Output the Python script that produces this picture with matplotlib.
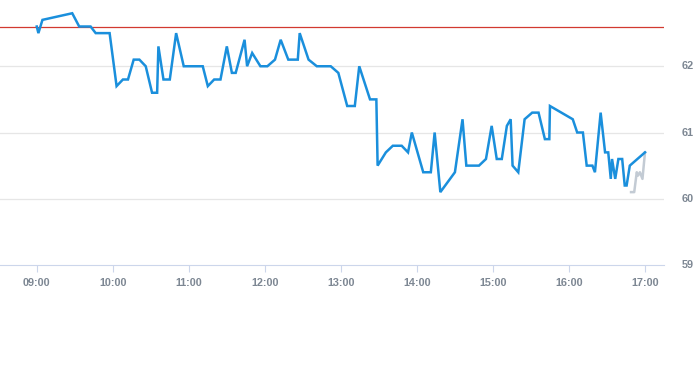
import matplotlib
matplotlib.use("Agg")
import matplotlib.pyplot as plt

# intraday price, minutes after 09:00
minutes = [0, 1.3, 4.5, 28, 33.5, 42.5, 46.5, 57.5, 63, 68, 72, 76.5, 81, 86, 91, 95,
           96, 100, 105, 110, 116, 131, 135, 140, 145, 150, 154, 157, 164, 166, 170,
           176.5, 182, 188, 192.5, 198.5, 206, 207.5, 214.5, 221, 232, 238, 245, 251,
           254.5, 263, 268, 269, 275.5, 281, 288, 293, 296, 305, 311, 314, 318.5, 330,
           336, 339, 349, 354.5, 359, 363, 367, 371, 374, 375.5, 380, 385, 391, 396,
           401, 404.5, 405, 423, 426.5, 431, 434, 438.5, 440.5, 445, 448.5, 451, 453,
           454, 456.5, 459, 462, 464, 465.5, 468, 480]
price = [62.6, 62.5, 62.7, 62.8, 62.6, 62.6, 62.5, 62.5, 61.7, 61.8, 61.8, 62.1, 62.1,
         62.0, 61.6, 61.6, 62.3, 61.8, 61.8, 62.5, 62.0, 62.0, 61.7, 61.8, 61.8, 62.3,
         61.9, 61.9, 62.4, 62.0, 62.2, 62.0, 62.0, 62.1, 62.4, 62.1, 62.1, 62.5, 62.1,
         62.0, 62.0, 61.9, 61.4, 61.4, 62.0, 61.5, 61.5, 60.5, 60.7, 60.8, 60.8, 60.7,
         61.0, 60.4, 60.4, 61.0, 60.1, 60.4, 61.2, 60.5, 60.5, 60.6, 61.1, 60.6, 60.6,
         61.1, 61.2, 60.5, 60.4, 61.2, 61.3, 61.3, 60.9, 60.9, 61.4, 61.2, 61.0, 61.0,
         60.5, 60.5, 60.4, 61.3, 60.7, 60.7, 60.3, 60.6, 60.3, 60.6, 60.6, 60.2, 60.2,
         60.5, 60.7]

# second (grey) series at the end of the session
grey_minutes = [469, 471.5, 473.5, 474.5, 476, 478, 480]
grey_price = [60.1, 60.1, 60.4, 60.35, 60.4, 60.3, 60.7]

ref_level = 62.6
tick_labels = ["09:00", "10:00", "11:00", "12:00", "13:00", "14:00", "15:00", "16:00", "17:00"]
y_ticks = [59, 60, 61, 62]

text_col = "#7d8793"
plt.rcParams["font.family"] = ["Liberation Sans", "DejaVu Sans"]

fig = plt.figure(figsize=(6.93, 3.65), dpi=100)
ax = fig.add_axes([0, 100 / 365, 664 / 693, 265 / 365])

for v in y_ticks[1:]:
    ax.axhline(v, color="#e6e6e6", lw=0.9, zorder=1)
ax.axhline(ref_level, color="#d23a30", lw=0.9, zorder=2)

ax.plot(grey_minutes, grey_price, color="#c3cbd4", lw=1.8, zorder=3)
ax.plot(minutes, price, color="#1a8fdc", lw=1.8, zorder=4, solid_joinstyle="miter")

ax.set_xlim(-29, 495)
ax.set_ylim(59, 63)

ax.set_xticks([i * 60 for i in range(len(tick_labels))])
ax.set_xticklabels(tick_labels, fontsize=7.8, fontweight="bold", color=text_col)
ax.tick_params(axis="x", length=5, color="#ccd6eb", pad=4)
ax.set_yticks([])

for s in ["top", "right", "left"]:
    ax.spines[s].set_visible(False)
ax.spines["bottom"].set_color("#ccd6eb")

for v in y_ticks:
    ax.text(682 / 664 * 1.0, v, str(v), transform=ax.get_yaxis_transform(),
            fontsize=7.8, fontweight="bold", color=text_col, ha="left", va="center",
            clip_on=False)

fig.savefig("out.png", dpi=100)
